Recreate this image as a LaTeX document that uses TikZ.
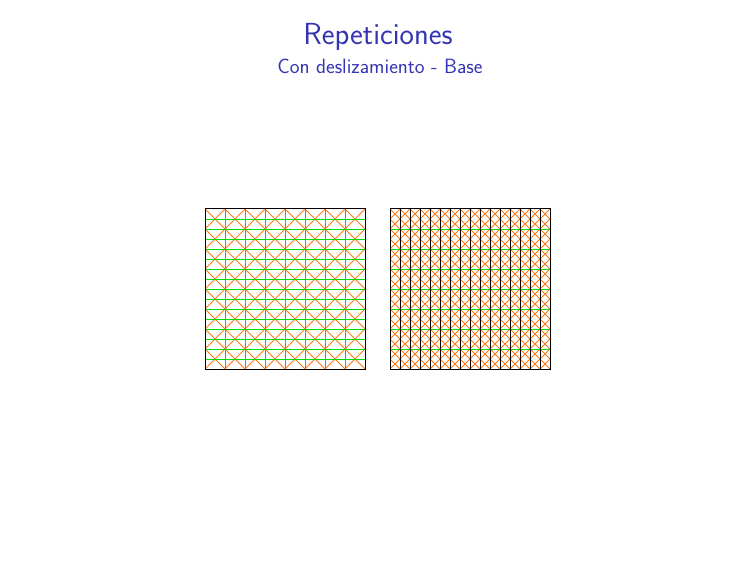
\documentclass[tikz,border=0pt]{standalone}
\usepackage{fontspec}
\setmainfont{Latin Modern Sans}
\definecolor{titleblue}{RGB}{51,51,179}
\definecolor{gridgreen}{RGB}{0,220,0}
\definecolor{diagorange}{RGB}{255,120,20}
\tikzset{
  diag/.style={draw=diagorange, line width=0.8pt},
  gline/.style={draw=gridgreen, line width=0.8pt},
  bline/.style={draw=black, line width=0.8pt},
  frame/.style={draw=black, line width=1pt},
}
\begin{document}
\begin{tikzpicture}[x=1pt,y=-1pt]
\useasboundingbox (0,0) rectangle (756,567);
\node[text=titleblue, font=\fontsize{30.5}{36}\selectfont, anchor=base] (title) at (378,44.5) {Repeticiones};
\node[text=titleblue, font=\fontsize{20.7}{25}\selectfont, anchor=base] (subtitle) at (380,73.5) {Con deslizamiento - Base};
% left square
\begin{scope}
\clip (205,209) rectangle (365,369);
\foreach \k in {-8,...,8} {
  \draw[diag] (205+20*\k,209) -- ++(160,160);
  \draw[diag] (205+20*\k,369) -- ++(160,-160);
}
\foreach \i in {1,...,7} \draw[gline] (205+20*\i,209) -- (205+20*\i,369);
\foreach \j in {1,...,15} \draw[gline] (205,209+10*\j) -- (365,209+10*\j);
\end{scope}
\draw[frame] (205,209) rectangle (365,369);
% right square
\begin{scope}
\clip (390,209) rectangle (550,369);
\foreach \k in {-16,...,16} {
  \draw[diag] (390+10*\k,209) -- ++(160,160);
  \draw[diag] (390+10*\k,369) -- ++(160,-160);
}
\foreach \j in {1,...,7} \draw[gline] (390,209+20*\j) -- (550,209+20*\j);
\foreach \i in {1,...,15} \draw[bline] (390+10*\i,209) -- (390+10*\i,369);
\end{scope}
\draw[frame] (390,209) rectangle (550,369);
\end{tikzpicture}
\end{document}
